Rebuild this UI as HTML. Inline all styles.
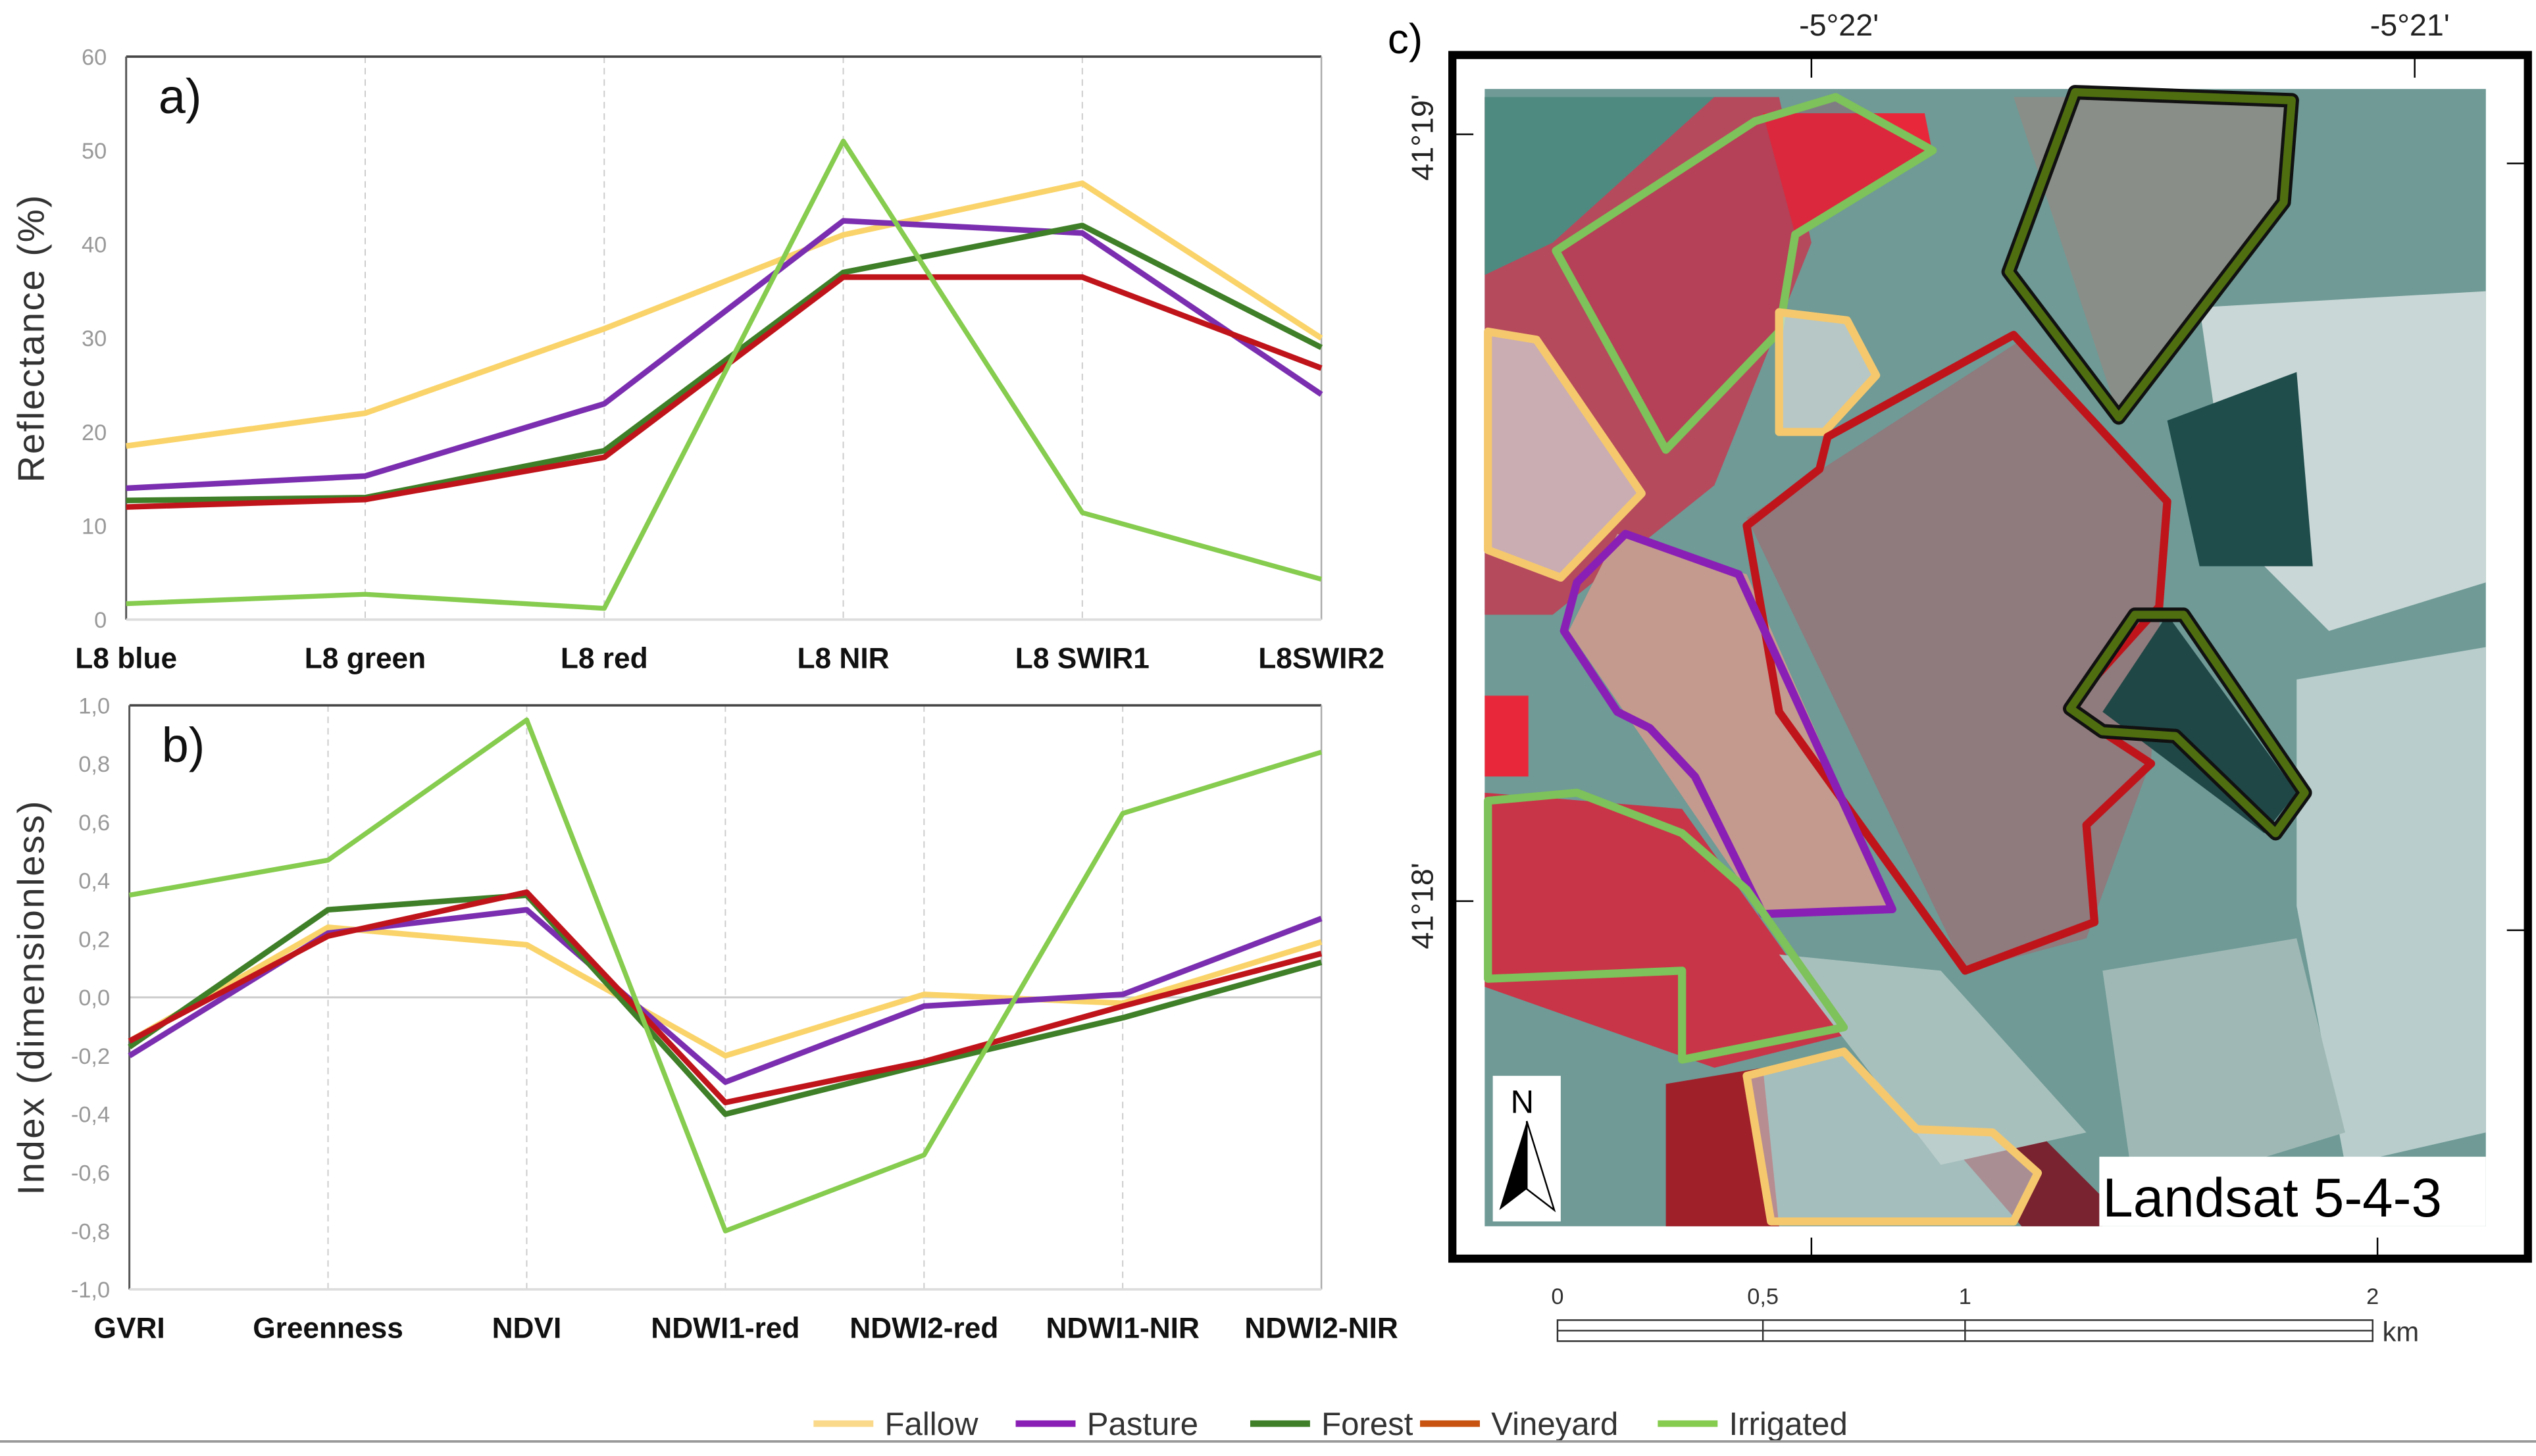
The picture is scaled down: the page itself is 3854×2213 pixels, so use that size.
<!DOCTYPE html>
<html><head><meta charset="utf-8"><style>
html,body{margin:0;padding:0;background:#fff;}
svg{display:block;}
text{font-family:"Liberation Sans",sans-serif;}
</style></head>
<body>
<svg id="fig" width="3854" height="2213" viewBox="0 0 1568 900" preserveAspectRatio="none" xmlns="http://www.w3.org/2000/svg">
<rect width="1568" height="900" fill="#fff"/>
<g id="chartA"></g>
<g id="chartB"></g>

<g>
  <text x="858" y="33" font-size="26">c)</text>
  <g>
    <rect x="918" y="55" width="619" height="703" fill="#6f9a96"/>
    <polygon points="918,60 1100,60 1120,150 1060,300 960,380 918,380" fill="#b54a5c"/>
    <polygon points="1090,70 1190,70 1195,95 1110,145" fill="#e8283a"/>
    <polygon points="918,60 1060,60 960,150 918,170" fill="#4f8a80"/>
    <polygon points="918,490 1040,500 1140,640 1060,660 918,610" fill="#c83548"/>
    <polygon points="918,430 945,430 945,480 918,480" fill="#e8283a"/>
    <polygon points="1030,670 1090,660 1100,758 1030,758" fill="#a0202a"/>
    <polygon points="1130,620 1200,640 1300,740 1300,758 1250,758" fill="#7a2330"/>
    <polygon points="1080,320 1250,210 1340,310 1330,470 1290,580 1215,600" fill="#8f7a7d"/>
    <polygon points="1000,330 1080,355 1170,560 1090,565 970,390" fill="#c49a8e"/>
    <polygon points="1245,60 1420,60 1410,125 1310,258" fill="#8a8e88"/>
    <polygon points="1360,190 1537,180 1537,360 1440,390 1380,330" fill="#c9d7d6"/>
    <polygon points="1420,420 1537,400 1537,700 1450,720 1420,560" fill="#b8cdcc"/>
    <polygon points="1300,600 1420,580 1450,700 1320,740" fill="#9fb8b5"/>
    <polygon points="1340,260 1420,230 1430,350 1360,350" fill="#1e4d4c"/>
    <polygon points="1300,440 1340,380 1420,490 1400,515" fill="#1f4746"/>
    <polygon points="1100,590 1200,600 1290,700 1200,720" fill="#a8c0bc"/>
  </g>
  <g fill="none" stroke-width="5" stroke-linejoin="round">
    <polygon points="962,155 1085,75 1135,60 1195,93 1110,145 1100,205 1030,278" stroke="#7dc25a" fill="rgba(180,40,70,0.25)"/>
    <polygon points="1100,193 1142,198 1160,232 1128,267 1100,267" stroke="#f5c86e" fill="rgba(230,230,230,0.6)"/>
    <polygon points="1283,57 1417,62 1412,125 1310,258 1242,168" stroke="#111" stroke-width="9"/>
    <polygon points="1283,57 1417,62 1412,125 1310,258 1242,168" stroke="#4f6e10" stroke-width="5"/>
    <polygon points="920,205 950,210 1015,305 965,357 920,340" stroke="#f5c86e" fill="rgba(210,215,215,0.7)"/>
    <polygon points="1080,325 1125,290 1130,270 1245,207 1340,310 1335,375 1278,438 1330,472 1290,510 1295,570 1215,600 1100,440" stroke="#c0141b"/>
    <polygon points="1005,330 1075,355 1170,562 1090,565 1048,480 1020,450 1000,440 967,390 975,360" stroke="#8a1fb5"/>
    <polygon points="1280,438 1320,380 1350,380 1425,490 1407,515 1345,455 1300,452" stroke="#111" stroke-width="9"/>
    <polygon points="1280,438 1320,380 1350,380 1425,490 1407,515 1345,455 1300,452" stroke="#4f6e10" stroke-width="5"/>
    <polygon points="920,495 975,490 1040,515 1080,550 1140,635 1040,655 1040,600 920,605" stroke="#7dc25a"/>
    <polygon points="1080,665 1140,650 1185,698 1232,700 1260,725 1245,755 1095,755" stroke="#f5c86e" fill="rgba(200,215,215,0.6)"/>
  </g>
  <rect x="1298" y="715" width="239" height="43" fill="#fff"/>
  <text x="1300" y="752" font-size="34">Landsat 5-4-3</text>
  <g>
    <rect x="923" y="665" width="42" height="90" fill="#fff"/>
    <text x="934" y="688" font-size="20">N</text>
    <polygon points="944,693 927,748 944,735" fill="#000"/>
    <polygon points="944,693 961,748 944,735" fill="#fff" stroke="#000" stroke-width="1"/>
  </g>
  <rect x="898" y="34" width="665" height="744" fill="none" stroke="#000" stroke-width="5"/>
  <g font-size="19" fill="#222">
    <line x1="1120" y1="34" x2="1120" y2="48" stroke="#000"/>
    <line x1="1493" y1="34" x2="1493" y2="48" stroke="#000"/>
    <line x1="1120" y1="765" x2="1120" y2="778" stroke="#000"/>
    <line x1="1470" y1="765" x2="1470" y2="778" stroke="#000"/>
    <line x1="898" y1="83" x2="911" y2="83" stroke="#000"/>
    <line x1="898" y1="557" x2="911" y2="557" stroke="#000"/>
    <line x1="1550" y1="101" x2="1563" y2="101" stroke="#000"/>
    <line x1="1550" y1="575" x2="1563" y2="575" stroke="#000"/>
    <text x="1137" y="22" text-anchor="middle">-5°22'</text>
    <text x="1490" y="22" text-anchor="middle">-5°21'</text>
    <text transform="translate(886,85) rotate(-90)" text-anchor="middle">41°19'</text>
    <text transform="translate(886,560) rotate(-90)" text-anchor="middle">41°18'</text>
  </g>
  <g font-size="14" fill="#333">
    <rect x="963" y="816" width="504" height="13" fill="#fff" stroke="#333" stroke-width="1"/>
    <line x1="963" y1="822.5" x2="1467" y2="822.5" stroke="#333"/>
    <line x1="1090" y1="816" x2="1090" y2="829" stroke="#333"/>
    <line x1="1215" y1="816" x2="1215" y2="829" stroke="#333"/>
    <text x="963" y="806" text-anchor="middle">0</text>
    <text x="1090" y="806" text-anchor="middle">0,5</text>
    <text x="1215" y="806" text-anchor="middle">1</text>
    <text x="1467" y="806" text-anchor="middle">2</text>
    <text x="1473" y="829" font-size="17">km</text>
  </g>
</g>

<g id="legend" font-size="20" fill="#333"></g>
<line x1="0" y1="891" x2="1568" y2="891" stroke="#999" stroke-width="1.5"/>
</svg>
<script>
const seriesNames = ["Fallow","Pasture","Forest","Vineyard","Irrigated"];
const seriesColors = ["#fad46a","#7b2fb0","#3f7f28","#c0141b","#86cc4e"];
const legendColors = ["#fad98a","#8a1fb5","#3f7f28","#c8520f","#86cc4e"];
const catsA = ["L8 blue","L8 green","L8 red","L8 NIR","L8 SWIR1","L8SWIR2"];
const fallowA = [18.5,22,31,41,46.5,30];
const pastureA = [14,15.3,23,42.5,41.2,24];
const forestA = [12.7,13,18,37,42,29];
const vineyardA = [12,12.8,17.3,36.5,36.5,26.8];
const irrigatedA = [1.7,2.7,1.2,51,11.4,4.3];
const ticksA = [0,10,20,30,40,50,60];
const catsB = ["GVRI","Greenness","NDVI","NDWI1-red","NDWI2-red","NDWI1-NIR","NDWI2-NIR"];
const fallowB = [-0.15,0.24,0.18,-0.2,0.01,-0.02,0.19];
const pastureB = [-0.2,0.22,0.3,-0.29,-0.03,0.01,0.27];
const forestB = [-0.17,0.3,0.35,-0.4,-0.23,-0.07,0.12];
const vineyardB = [-0.15,0.21,0.36,-0.36,-0.22,-0.03,0.15];
const irrigatedB = [0.35,0.47,0.95,-0.8,-0.54,0.63,0.84];
const ticksB = [-1,-0.8,-0.6,-0.4,-0.2,0,0.2,0.4,0.6,0.8,1];

const NS="http://www.w3.org/2000/svg";
function mk(tag, attrs, parent){const e=document.createElementNS(NS,tag);for(const k in attrs)e.setAttribute(k,attrs[k]);parent.appendChild(e);return e;}

function drawChart(g, cats, series, ticks, ymin, ymax, x0, x1, y0, y1, fmt, title, panel, zeroLine){
  const xs = i => x0 + (x1-x0)*i/(cats.length-1);
  const ys = v => y1 - (v-ymin)/(ymax-ymin)*(y1-y0);
  cats.forEach((c,i)=>{ if(i>0 && i<cats.length-1){
    const l=mk('line',{x1:xs(i),x2:xs(i),y1:y0,y2:y1,stroke:'#ccc','stroke-dasharray':'4,3','stroke-width':0.8},g);
    
    
  }});
  if(zeroLine){const z=mk('line',{x1:x0,x2:x1,y1:ys(0),y2:ys(0),stroke:'#ccc','stroke-width':1.2},g);
    
    }
  mk('line',{x1:x0,x2:x1,y1:y0,y2:y0,stroke:'#444','stroke-width':1.5},g);
  mk('line',{x1:x0,x2:x0,y1:y0,y2:y1,stroke:'#555','stroke-width':1.2},g);
  mk('line',{x1:x1,x2:x1,y1:y0,y2:y1,stroke:'#aaa','stroke-width':1},g);
  mk('line',{x1:x0,x2:x1,y1:y1,y2:y1,stroke:'#ddd','stroke-width':1.5},g);
  ticks.forEach(t=>{
    const tx=mk('text',{x:x0-12,y:ys(t)+5,'font-size':14,fill:'#999','text-anchor':'end'},g);
    tx.textContent=fmt(t);
    
    
  });
  cats.forEach((c,i)=>{
    const tx=mk('text',{x:xs(i),y:y1+30,'font-size':18,'font-weight':'bold',fill:'#111','text-anchor':'middle'},g);
    tx.textContent=c;
    
    
  });
  series.forEach((vals,si)=>{
    const pts=vals.map((v,i)=>xs(i)+','+ys(v)).join(' ');
    const p=mk('polyline',{points:pts,fill:'none',stroke:seriesColors[si],'stroke-width':si===4?3:3.5,'stroke-linejoin':'round'},g);
    
    
  });
  const tt=mk('text',{transform:'translate(27,'+((y0+y1)/2)+') rotate(-90)','font-size':23,fill:'#333','text-anchor':'middle','letter-spacing':'1'},g);
  tt.textContent=title;
  
  
  const pl=mk('text',{x:x0+20,y:y0+35,'font-size':30,fill:'#111'},g);
  pl.textContent=panel;
  
  
}
drawChart(document.getElementById('chartA'), catsA, [fallowA,pastureA,forestA,vineyardA,irrigatedA], ticksA, 0, 60, 78, 817, 35, 383, t=>String(t), "Reflectance (%)", "a)", false);
drawChart(document.getElementById('chartB'), catsB, [fallowB,pastureB,forestB,vineyardB,irrigatedB], ticksB, -1, 1, 80, 817, 436, 797, t=>t.toFixed(1).replace('.',','), "Index (dimensionless)", "b)", true);

const lg=document.getElementById('legend');
const lx=[503,628,773,878,1025];
seriesNames.forEach((n,i)=>{
  const l=mk('line',{x1:lx[i],x2:lx[i]+37,y1:880,y2:880,stroke:legendColors[i],'stroke-width':4},lg);
  
  
  const t=mk('text',{x:lx[i]+44,y:887},lg);
  t.textContent=n;
  
  
});
</script>
</body></html>
